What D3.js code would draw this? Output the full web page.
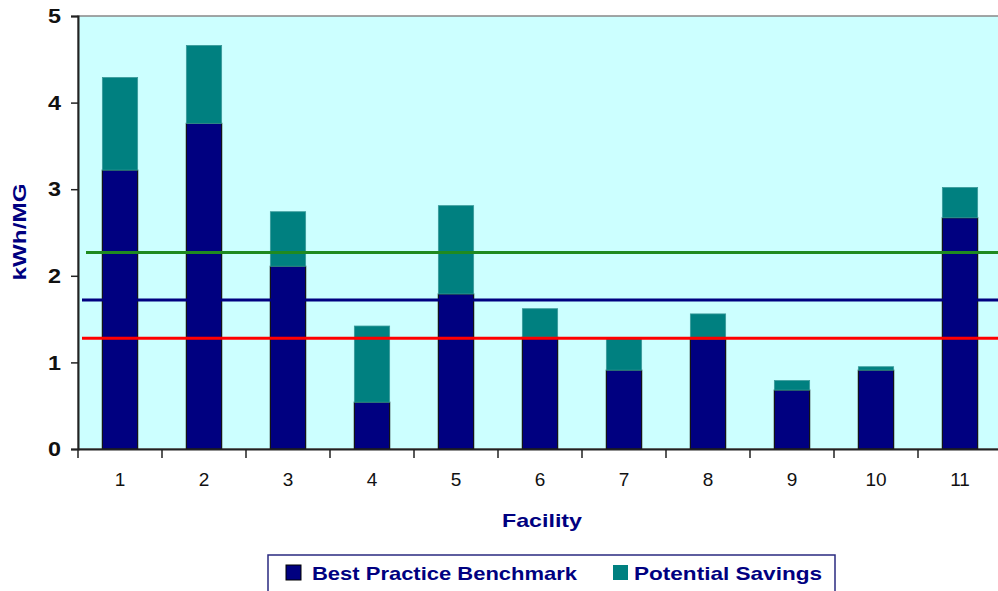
<!DOCTYPE html>
<html><head><meta charset="utf-8">
<script src="https://cdn.jsdelivr.net/npm/d3@7/dist/d3.min.js"></script>
<style>body{margin:0;background:#fff}svg{display:block;font-family:"Liberation Sans",Arial,sans-serif}</style>
</head><body><svg id="c" width="998" height="591"></svg>
<script>
const facilities = ["1","2","3","4","5","6","7","8","9","10","11"];
const benchmark = [3.22, 3.76, 2.11, 0.54, 1.79, 1.29, 0.91, 1.27, 0.68, 0.91, 2.67];
const savings   = [1.07, 0.90, 0.63, 0.88, 1.02, 0.33, 0.37, 0.29, 0.11, 0.04, 0.35];
const yTicks = [0,1,2,3,4,5];
const refLines = [
  {name:"green", value:2.27, color:"#1f8a1f"},
  {name:"blue", value:1.72, color:"#000080"},
  {name:"red", value:1.28, color:"#ff0000"}
];
const seriesNames = ["Best Practice Benchmark","Potential Savings"];
const seriesColors = ["#000080","#008080"];

const svg = d3.select("#c");
const L=78, R=1002, T=16, B=449;
const x = d3.scaleBand().domain(facilities).range([L,R]).paddingInner(0.58).paddingOuter(0.29);
const y = d3.scaleLinear().domain([0,5]).range([B,T]);

svg.append("rect").attr("x",L).attr("y",T).attr("width",R-L).attr("height",B-T)
  .attr("fill","#ccffff").attr("stroke","#888").attr("stroke-width",1.5);

const data = facilities.map((f,i)=>({f, b:benchmark[i], s:savings[i]}));
const g = svg.append("g");
g.selectAll(".bm").data(data).join("rect")
  .attr("x",d=>x(d.f)).attr("width",x.bandwidth())
  .attr("y",d=>y(d.b)).attr("height",d=>B-y(d.b))
  .attr("fill",seriesColors[0]).attr("stroke","#111").attr("stroke-width",1.2);
g.selectAll(".sv").data(data).join("rect")
  .attr("x",d=>x(d.f)).attr("width",x.bandwidth())
  .attr("y",d=>y(d.b+d.s)).attr("height",d=>y(d.b)-y(d.b+d.s))
  .attr("fill",seriesColors[1]).attr("stroke","#3a9a9a").attr("stroke-width",0.8);

svg.selectAll(".ref").data(refLines).join("line")
  .attr("x1",d=>d.name==="green"?86:82).attr("x2",R)
  .attr("y1",d=>y(d.value)).attr("y2",d=>y(d.value))
  .attr("stroke",d=>d.color).attr("stroke-width",3);

// y axis
const ya = svg.append("g").attr("transform",`translate(${L},0)`)
  .call(d3.axisLeft(y).tickValues(yTicks).tickSize(7).tickPadding(10).tickFormat(d3.format("d")));
ya.select(".domain").attr("stroke","#222").attr("stroke-width",2);
ya.selectAll(".tick line").attr("stroke","#222").attr("stroke-width",1.5);
ya.selectAll("text").attr("font-size",21).attr("font-weight","bold").attr("fill","#111")
  .attr("textLength",13).attr("lengthAdjust","spacingAndGlyphs")
  .attr("font-family","'Liberation Sans',Arial,sans-serif");

// x axis
const xa = svg.append("g").attr("transform",`translate(0,${B})`)
  .call(d3.axisBottom(x).tickSize(0).tickPadding(24));
xa.select(".domain").attr("stroke","#222").attr("stroke-width",2);
xa.selectAll("text").attr("font-size",19).attr("fill","#111")
  .attr("font-family","'Liberation Sans',Arial,sans-serif");
const step = x.step();
const bounds = facilities.map((f,i)=>x(f)-x.paddingInner()*step/2).concat([R]);
xa.selectAll(".bt").data(bounds).join("line")
  .attr("x1",d=>d).attr("x2",d=>d).attr("y1",0).attr("y2",9)
  .attr("stroke","#222").attr("stroke-width",1.5);

// titles
svg.append("text").attr("transform",`translate(26,${232}) rotate(-90)`)
  .attr("text-anchor","middle").attr("font-size",18).attr("font-weight","bold")
  .attr("textLength",97).attr("lengthAdjust","spacingAndGlyphs")
  .attr("fill","#000080").text("kWh/MG");
svg.append("text").attr("x",542).attr("y",527).attr("text-anchor","middle")
  .attr("font-size",19).attr("font-weight","bold").attr("fill","#000080")
  .attr("textLength",80).attr("lengthAdjust","spacingAndGlyphs").text("Facility");

// legend
const lg = svg.append("g");
lg.append("rect").attr("x",268).attr("y",555).attr("width",567).attr("height",45)
  .attr("fill","#fff").attr("stroke","#2a2a80").attr("stroke-width",1.5);
const lx = [286, 613];
const lw = [265, 188];
seriesNames.forEach((n,i)=>{
  lg.append("rect").attr("x",lx[i]).attr("y",565).attr("width",15).attr("height",15)
    .attr("fill",seriesColors[i]).attr("stroke",i===0?"#000":"none");
  lg.append("text").attr("x",lx[i]+(i===0?26:21)).attr("y",580).attr("font-size",19)
    .attr("textLength",lw[i]).attr("lengthAdjust","spacingAndGlyphs")
    .attr("font-weight","bold").attr("fill","#000080").text(n);
});
</script></body></html>
